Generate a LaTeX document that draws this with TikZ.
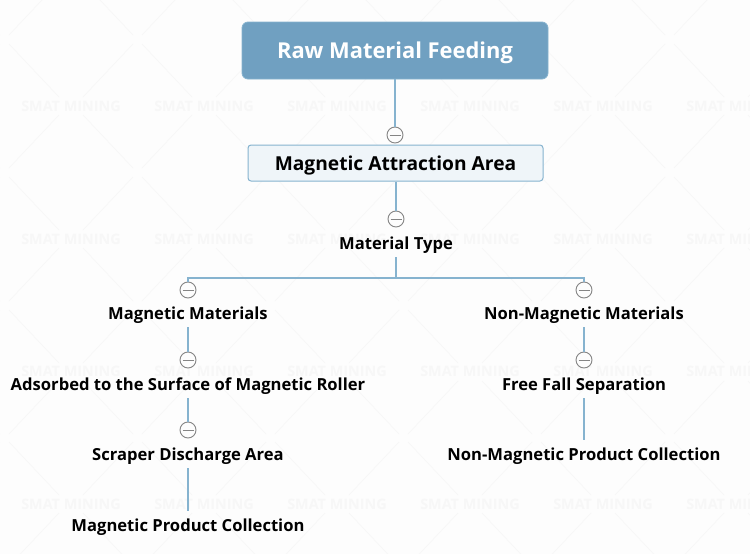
\documentclass[tikz,border=0pt]{standalone}
\usepackage{fontspec}
\setmainfont{Open Sans}
\definecolor{bgc}{HTML}{FDFDFD}
\definecolor{wmc}{HTML}{F7F7F7}
\definecolor{linec}{HTML}{86B3CF}
\definecolor{rootc}{HTML}{70A0C1}
\definecolor{subc}{HTML}{EFF5F9}
\definecolor{circc}{HTML}{858585}
\tikzset{
  x=1pt,y=-1pt,
  wm/.style={text=wmc,font=\fontsize{14.4}{16}\selectfont\bfseries,inner sep=0pt},
  wmline/.style={draw=wmc,line width=0.7pt},
  conn/.style={draw=linec,line width=1.1pt},
  rootbox/.style={draw=linec,fill=rootc,rounded corners=6pt,line width=0.8pt,minimum width=306pt,minimum height=57pt,inner sep=0pt,text=white,text height=16pt,text depth=0pt,font=\fontsize{21.9}{24}\selectfont\bfseries},
  subbox/.style={draw=linec,fill=subc,rounded corners=3pt,line width=1pt,minimum width=295pt,minimum height=36pt,inner sep=0pt,text=black,text height=15.4pt,text depth=0pt,font=\fontsize{19.2}{22}\selectfont\bfseries},
  topic/.style={inner sep=0pt,minimum height=28pt,text=black,text height=12.6pt,text depth=0pt,font=\fontsize{16.6}{18}\selectfont\bfseries},
  fold/.style={circle,draw=circc,fill=bgc,line width=0.9pt,minimum size=16pt,inner sep=0pt,
    path picture={\draw[circc,line width=0.9pt] ([xshift=-5.5pt]path picture bounding box.center) -- ([xshift=5.5pt]path picture bounding box.center);}},
}
\begin{document}
\begin{tikzpicture}
\useasboundingbox (0,0) rectangle (750,554);
\fill[bgc] (0,0) rectangle (750,554);
% watermark
\foreach \cx in {-62,71,204,337,470,603,736}{
  \foreach \cy in {-27,106,239,372,504}{
    \foreach \sx/\sy in {1/1,1/-1,-1/1,-1/-1}{
      \draw[wmline] (\cx+\sx*12,\cy+\sy*9) -- (\cx+\sx*62,\cy+\sy*62);
    }
  }
}
\foreach \cx/\lab in {71/a,204/b,337/c,470/d,603/e,736/f}{
  \foreach \cy/\mab in {106/p,239/q,371/r,504/s}{
    \node[wm] (w\lab\mab) at (\cx,\cy) {SMAT MINING};
  }
}
% nodes
\node[rootbox] (root) at (395,50.5) {Raw Material Feeding};
\node[subbox] (area) at (395.5,163) {Magnetic Attraction Area};
\node[topic] (type) at (396,243) {Material Type};
\node[topic] (mag) at (188,313) {Magnetic Materials};
\node[topic] (non) at (584,313) {Non-Magnetic Materials};
\node[topic] (ads) at (188,384) {Adsorbed to the Surface of Magnetic Roller};
\node[topic] (free) at (584,384) {Free Fall Separation};
\node[topic] (scr) at (188,454) {Scraper Discharge Area};
\node[topic] (nonp) at (584,454) {Non-Magnetic Product Collection};
\node[topic] (magp) at (188,525) {Magnetic Product Collection};
\node[fold] (f1) at (395,135) {};
\node[fold] (f2) at (396,219) {};
\node[fold] (f3) at (188,290) {};
\node[fold] (f4) at (584,290) {};
\node[fold] (f5) at (188,360) {};
\node[fold] (f6) at (584,360) {};
\node[fold] (f7) at (188,430) {};
\coordinate (bus) at (396,278);
% connectors
\draw[conn] (root.south -| f1) -- (f1.north);
\draw[conn] (area.south -| f2) -- (f2.north);
\draw[conn] (type.south) -- (bus);
\draw[conn] (f3.north) |- (bus);
\draw[conn] (f4.north) |- (bus);
\draw[conn] (mag.south) -- (f5.north);
\draw[conn] (non.south) -- (f6.north);
\draw[conn] (ads.south) -- (f7.north);
\draw[conn] (free.south) -- (nonp.north);
\draw[conn] (scr.south) -- (magp.north);
\end{tikzpicture}
\end{document}
